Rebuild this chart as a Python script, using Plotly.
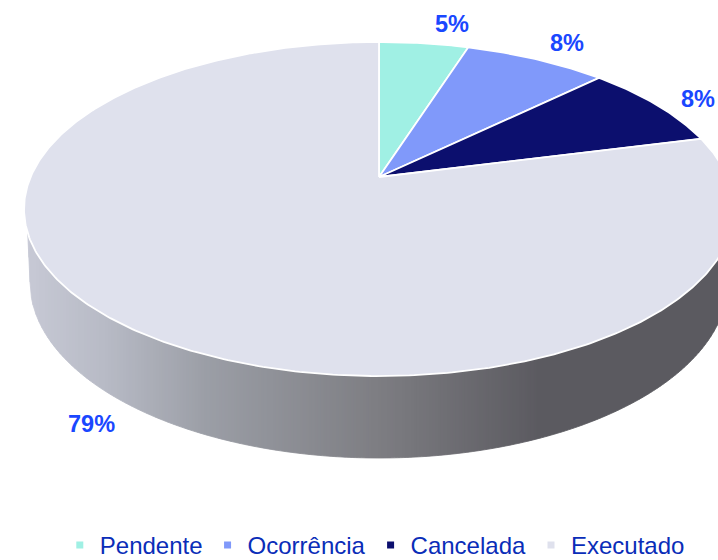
import numpy as np
import plotly.graph_objects as go

# Data
categories = ["Pendente", "Ocorrência", "Cancelada", "Executado"]
values = [4.9, 7.8, 8.3, 79.0]
slice_colors = ["#A0F0E4", "#8099FA", "#0C0F6E", "#DFE1ED"]

# Tilted-disc projection (in page pixels)
APEX_X, APEX_Y = 379.0, 177.0
K, SCALE_X, SCALE_Y = 0.1916, 348.4, 160.9
RIM_CY, RIM_A, RIM_B = 209.0, 355.0, 167.0
BASE_CY, BASE_A, BASE_B = 282.0, 349.0, 176.0
FIG_H = 568


def project(theta):
    u, v = np.sin(theta), np.cos(theta)
    d = 1 + K * v
    return APEX_X + SCALE_X * u / d, APEX_Y - SCALE_Y * v / d


def rim_lower(x):
    return RIM_CY + RIM_B * np.sqrt(np.clip(1 - ((x - APEX_X) / RIM_A) ** 2, 0, None))


def base_lower(x):
    y = BASE_CY + BASE_B * np.sqrt(np.clip(1 - ((x - APEX_X) / BASE_A) ** 2, 0, None))
    return np.where(x < 30, 233 + (x - 27.7) / 2.3 * 49, y)


grad_x = [27, 107, 207, 380, 540, 720]
grad_c = [(199, 201, 213), (183, 186, 197), (155, 158, 166), (125, 125, 130), (91, 90, 96), (91, 90, 96)]


def shade(x):
    r, g, b = (np.interp(x, grad_x, [c[i] for c in grad_c]) for i in range(3))
    return f"rgb({r:.0f},{g:.0f},{b:.0f})"


fig = go.Figure()

# Side wall: narrow strips carrying the horizontal shading
edges = np.concatenate([np.linspace(27.7, 30, 3), np.arange(33, 719, 3.0), [720.0]])
for x0, x1 in zip(edges[:-1], edges[1:]):
    xs = np.linspace(x0, x1, 3)
    px = np.concatenate([xs, xs[::-1]])
    py = np.concatenate([rim_lower(xs) - 2, base_lower(xs)[::-1]])
    col = shade((x0 + x1) / 2)
    fig.add_trace(go.Scatter(x=px, y=py, mode="lines", fill="toself", fillcolor=col,
                             line=dict(color=col, width=0.8), hoverinfo="skip", showlegend=False))

# Top face: one polygon per slice, sized by the values
fracs = np.array(values) / sum(values)
bounds = np.concatenate([[0], np.cumsum(fracs)]) * 2 * np.pi
for name, col, a0, a1 in zip(categories, slice_colors, bounds[:-1], bounds[1:]):
    th = np.linspace(a0, a1, max(4, int((a1 - a0) * 90)))
    rx, ry = project(th)
    fig.add_trace(go.Scatter(x=np.concatenate([[APEX_X], rx, [APEX_X]]),
                             y=np.concatenate([[APEX_Y], ry, [APEX_Y]]),
                             mode="lines", fill="toself", fillcolor=col,
                             line=dict(color="white", width=1.8),
                             name=name, hoverinfo="name", showlegend=False))

# Legend entries
for name, col in zip(categories, slice_colors):
    fig.add_trace(go.Scatter(x=[None], y=[None], mode="markers", name=name,
                             marker=dict(symbol="square", size=7, color=col)))

# Percentage labels
label_x = [452, 567, 698, 91]
label_y = [24, 43, 99, 424]
for v, lx, ly in zip(values, label_x, label_y):
    fig.add_annotation(x=lx, y=ly, text=f"<b>{v:.0f}%</b>", showarrow=False,
                       font=dict(family="Liberation Sans", size=23.5, color="#1A47FF"))

fig.update_xaxes(range=[0, 718], visible=False, fixedrange=True)
fig.update_yaxes(range=[FIG_H, 0], visible=False, fixedrange=True)
fig.update_layout(
    width=718, height=FIG_H, margin=dict(l=0, r=0, t=0, b=0), autosize=False,
    paper_bgcolor="white", plot_bgcolor="white",
    legend=dict(orientation="h", x=0.522, xanchor="center", y=0, yanchor="bottom",
                font=dict(family="Liberation Sans", size=24, color="#0A2DB8"),
                bgcolor="rgba(0,0,0,0)", itemclick=False, itemdoubleclick=False),
)
fig.write_html("out.html", config={"displayModeBar": False},
               post_script="document.body.style.margin='0';document.body.style.overflow='hidden';")
